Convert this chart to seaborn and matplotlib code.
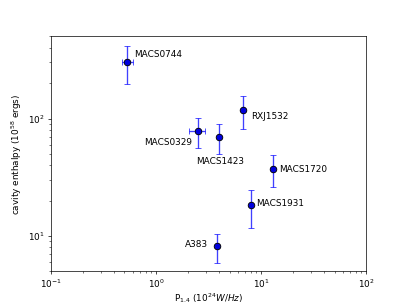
import matplotlib
matplotlib.use("Agg")
import matplotlib.pyplot as plt
import seaborn as sns
import pandas as pd

# Cluster values
names = ["MACS0744", "MACS0329", "MACS1423", "RXJ1532", "MACS1720", "MACS1931", "A383"]
p14 = [0.535, 2.49, 3.95, 6.77, 13.0, 8.02, 3.78]
p14_lo = [0.473, 2.06, 3.95, 6.77, 13.0, 8.02, 3.78]
p14_hi = [0.60, 2.93, 3.95, 6.77, 13.0, 8.02, 3.78]
enthalpy = [304, 78, 70, 118, 37.3, 18.2, 8.2]
enthalpy_lo = [196, 56.6, 50, 81, 26.3, 11.6, 5.93]
enthalpy_hi = [412, 100.6, 90, 154, 48.6, 24.8, 10.5]

# label offsets in points (dx, dy, ha)
label_pos = {
    "MACS0744": (7, 8, "left"),
    "MACS0329": (-6, -12, "right"),
    "MACS1423": (2, -28, "center"),
    "RXJ1532": (9, -7, "left"),
    "MACS1720": (7, 0, "left"),
    "MACS1931": (6, 2, "left"),
    "A383": (-10, 2, "right"),
}

df = pd.DataFrame({"name": names, "p14": p14, "H": enthalpy})
xerr = [[a - b for a, b in zip(p14, p14_lo)], [b - a for a, b in zip(p14, p14_hi)]]
yerr = [[a - b for a, b in zip(enthalpy, enthalpy_lo)], [b - a for a, b in zip(enthalpy, enthalpy_hi)]]

fig, ax = plt.subplots(figsize=(6.4, 4.8), dpi=407 / 6.4)

ax.errorbar(df["p14"], df["H"], xerr=xerr, yerr=yerr, fmt="none",
            ecolor="blue", elinewidth=1.5, capsize=3, alpha=0.75, zorder=1)
sns.scatterplot(data=df, x="p14", y="H", color="#0000dd", edgecolor="black",
                s=55, linewidth=1, ax=ax, zorder=2)

for n, x, y in zip(names, p14, enthalpy):
    dx, dy, ha = label_pos[n]
    ax.annotate(n, (x, y), xytext=(dx, dy), textcoords="offset points",
                ha=ha, va="center", fontsize=10)

ax.set_xscale("log")
ax.set_yscale("log")
ax.set_xlim(0.1, 100)
ax.set_ylim(5, 500)
ax.set_xlabel(r"P$_{1.4}$ ($10^{24}W/Hz$)", labelpad=1)
ax.set_ylabel(r"cavity enthalpy ($10^{58}$ ergs)")

plt.savefig("out.png", dpi=407 / 6.4)
